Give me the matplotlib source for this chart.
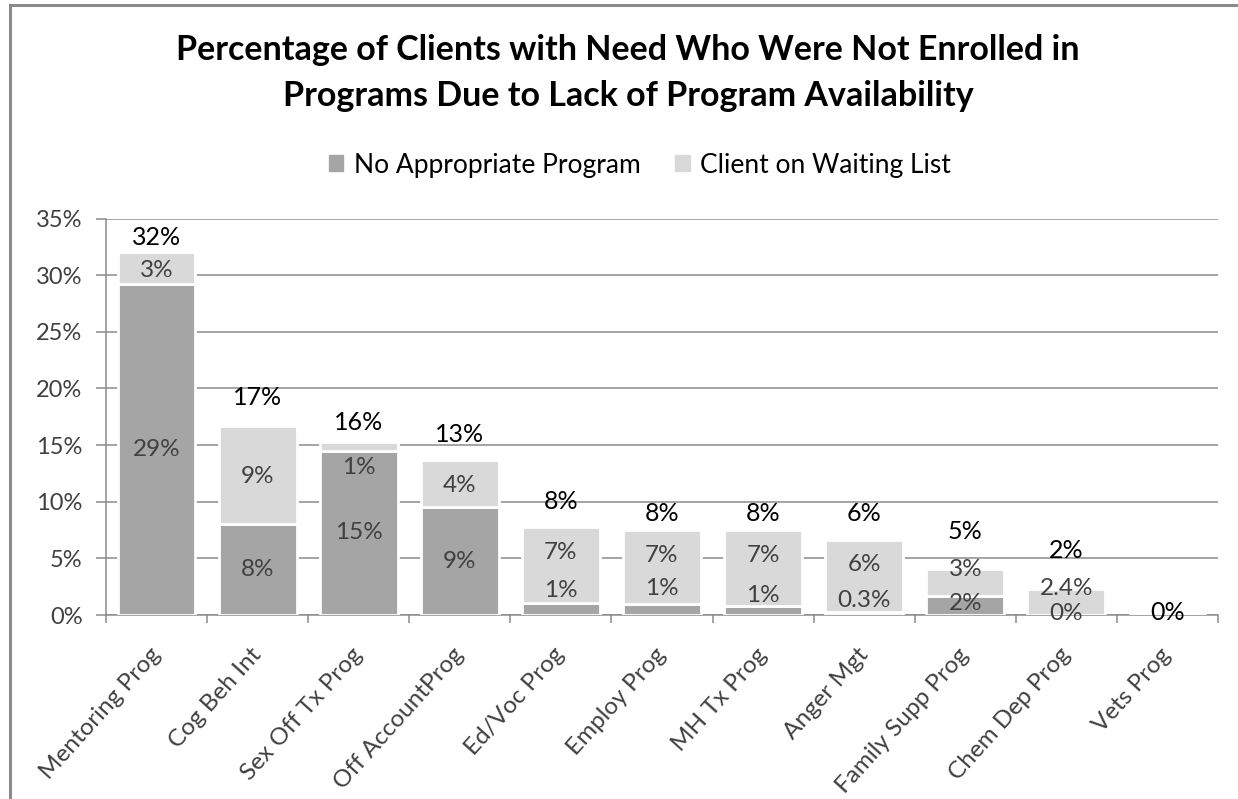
import matplotlib
matplotlib.use('Agg')
import matplotlib.pyplot as plt
from matplotlib.patches import Patch, Rectangle
from matplotlib.ticker import FixedLocator, FuncFormatter
import numpy as np

# Dados (percentuais)
programas = ['Mentoring Prog', 'Cog Beh Int', 'Sex Off Tx Prog', 'Off AccountProg',
             'Ed/Voc Prog', 'Employ Prog', 'MH Tx Prog', 'Anger Mgt',
             'Family Supp Prog', 'Chem Dep Prog', 'Vets Prog']
sem_programa = [29.2, 8.0, 14.5, 9.5, 1.1, 1.0, 0.8, 0.3, 1.7, 0.0, 0.0]
lista_espera = [2.8, 8.7, 0.8, 4.2, 6.7, 6.5, 6.7, 6.3, 2.4, 2.3, 0.0]
rotulos_sem = ['29%', '8%', '15%', '9%', '1%', '1%', '1%', '0.3%', '2%', '0%', '']
rotulos_espera = ['3%', '9%', '1%', '4%', '7%', '7%', '7%', '6%', '3%', '2.4%', '']
rotulos_total = ['32%', '17%', '16%', '13%', '8%', '8%', '8%', '6%', '5%', '2%', '0%']

# Deslocamentos manuais dos rotulos (como no grafico original)
desloc_sem = [0, 0, 0, 0, 1.6, 1.8, 1.3, 1.15, 0.15, 0.1, 0]
desloc_espera = [-0.2, -0.15, -1.9, -0.2, 1.05, 1.0, 1.1, 1.05, 1.1, 1.15, 0]
desloc_total = [1.3, 2.5, 1.7, 2.2, 2.2, 1.5, 1.5, 2.4, 3.3, 3.4, 0.2]

COR_ESCURA = '#a5a5a5'
COR_CLARA = '#d9d9d9'
COR_GRADE = '#8c8c8c'
COR_TEXTO = '#404040'

plt.rcParams['font.family'] = ['Lato', 'DejaVu Sans']

fig = plt.figure(figsize=(12.38, 7.99), dpi=100)
ax = fig.add_axes([106 / 1238, 1 - 615 / 799, (1218 - 106) / 1238, (615 - 218.5) / 799])

x = np.arange(len(programas))
largura = 0.77
base = np.array(sem_programa)
topo = base + np.array(lista_espera)

ax.bar(x, sem_programa, largura, color=COR_ESCURA, edgecolor='white', linewidth=2,
       label='No Appropriate Program', zorder=3)
ax.bar(x, lista_espera, largura, bottom=sem_programa, color=COR_CLARA, edgecolor='white',
       linewidth=2, label='Client on Waiting List', zorder=3)

# Rotulos dos segmentos e totais
for i in range(len(programas)):
    if rotulos_sem[i]:
        ax.text(x[i], base[i] / 2 + desloc_sem[i], rotulos_sem[i], ha='center', va='center',
                fontsize=17.5, color=COR_TEXTO, zorder=5)
    if rotulos_espera[i]:
        ax.text(x[i], base[i] + lista_espera[i] / 2 + desloc_espera[i], rotulos_espera[i],
                ha='center', va='center', fontsize=17.5, color=COR_TEXTO, zorder=5)
    ax.text(x[i], topo[i] + desloc_total[i], rotulos_total[i], ha='center', va='center',
            fontsize=18, color='black', zorder=5)

ax.set_xlim(-0.5, len(programas) - 0.5)
ax.set_ylim(0, 35)
ax.set_yticks(np.arange(0, 36, 5))
ax.yaxis.set_major_formatter(FuncFormatter(lambda v, p: f'{v:.0f}%'))
ax.yaxis.grid(True, color=COR_GRADE, linewidth=1.1, zorder=0)
ax.set_axisbelow(True)

ax.set_xticks(x)
ax.set_xticklabels(programas, rotation=48, ha='right', va='center', rotation_mode='anchor')
ax.xaxis.set_minor_locator(FixedLocator(np.arange(-0.5, len(programas), 1.0)))
ax.tick_params(axis='x', which='major', length=0, pad=26, labelsize=17.5, labelcolor=COR_TEXTO)
ax.tick_params(axis='x', which='minor', length=6, color=COR_GRADE, width=1.1)
ax.tick_params(axis='y', length=7, color=COR_GRADE, width=1.1, pad=10, labelsize=17,
               labelcolor=COR_TEXTO)

for lado in ['top', 'right']:
    ax.spines[lado].set_visible(False)
for lado in ['left', 'bottom']:
    ax.spines[lado].set_color(COR_GRADE)
    ax.spines[lado].set_linewidth(1.1)

# Titulo e legenda
fig.text(628 / 1238, 1 - 50 / 799,
         'Percentage of Clients with Need Who Were Not Enrolled in',
         ha='center', va='center', fontsize=24.5, fontweight='bold')
fig.text(628 / 1238, 1 - 96 / 799,
         'Programs Due to Lack of Program Availability',
         ha='center', va='center', fontsize=24.5, fontweight='bold')

alcas = [Patch(color=COR_ESCURA), Patch(color=COR_CLARA)]
fig.legend(alcas, ['No Appropriate Program', 'Client on Waiting List'],
           loc='center', bbox_to_anchor=(640 / 1238, 1 - 165 / 799), ncol=2,
           frameon=False, fontsize=19, handlelength=0.55, handleheight=0.55,
           handletextpad=0.4, columnspacing=1.3)

# Moldura do grafico (so aparecem topo e esquerda)
fig.add_artist(Rectangle((10 / 1238, -0.1), 1.2, 1.1 - 5 / 799, transform=fig.transFigure,
                         fill=False, edgecolor='#8a8a8a', linewidth=2.2))

fig.savefig('out.png', dpi=100)
